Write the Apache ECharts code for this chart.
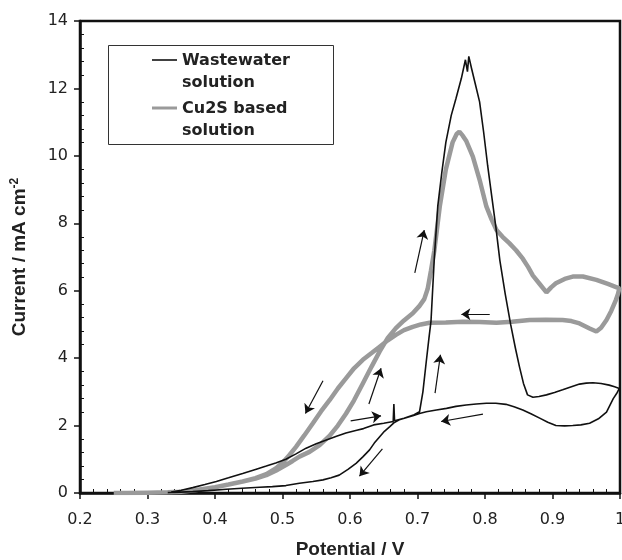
<!DOCTYPE html>
<html>
<head>
<meta charset="utf-8">
<script src="https://cdn.jsdelivr.net/npm/echarts@6/dist/echarts.min.js"></script>
<style>
  html, body { margin: 0; padding: 0; background: #fff; }
  #chart { width: 622px; height: 560px; }
</style>
</head>
<body>
<div id="chart"></div>
<script>
// Cyclic voltammograms: wastewater vs Cu2S based solution

const xTicks = [0.2, 0.3, 0.4, 0.5, 0.6, 0.7, 0.8, 0.9, 1];
const yTicks = [0, 2, 4, 6, 8, 10, 12, 14];

const seriesNames = ['Wastewater\nsolution', 'Cu2S based\nsolution'];

// black curve, read point by point (potential V, current mA cm-2)
const wastewater = [
  [0.335, 0.03], [0.35, 0.08], [0.367, 0.16], [0.385, 0.25], [0.402, 0.34],
  [0.42, 0.45], [0.441, 0.58], [0.46, 0.70], [0.476, 0.80], [0.49, 0.89],
  [0.505, 1.0], [0.52, 1.16], [0.535, 1.33], [0.55, 1.46], [0.565, 1.57],
  [0.58, 1.68], [0.594, 1.78], [0.61, 1.86], [0.62, 1.91], [0.635, 2.02],
  [0.65, 2.07], [0.664, 2.12], [0.665, 2.64], [0.666, 2.14], [0.68, 2.22],
  [0.695, 2.32], [0.703, 2.41],
  [0.708, 3.0], [0.713, 3.9], [0.717, 4.6], [0.72, 5.1], [0.725, 7.0],
  [0.73, 8.5], [0.736, 9.5], [0.742, 10.4], [0.75, 11.2], [0.757, 11.7],
  [0.765, 12.3], [0.771, 12.85], [0.774, 12.5], [0.776, 12.95], [0.78, 12.6],
  [0.786, 12.1], [0.792, 11.6], [0.798, 10.7], [0.804, 9.7], [0.81, 8.8],
  [0.816, 7.9], [0.822, 6.9], [0.83, 5.9], [0.838, 5.0], [0.845, 4.3],
  [0.851, 3.75], [0.857, 3.25], [0.863, 2.91], [0.871, 2.84], [0.88, 2.86],
  [0.891, 2.91], [0.903, 2.98], [0.915, 3.06], [0.928, 3.15], [0.94, 3.23],
  [0.95, 3.26], [0.96, 3.27], [0.972, 3.25], [0.984, 3.2], [0.992, 3.15],
  [0.999, 3.1],
  [0.995, 2.95], [0.99, 2.8], [0.98, 2.4], [0.968, 2.2], [0.955, 2.07],
  [0.942, 2.02], [0.93, 2.0], [0.918, 1.99], [0.905, 2.0], [0.893, 2.1],
  [0.881, 2.22], [0.868, 2.35], [0.856, 2.46], [0.843, 2.56], [0.831, 2.63],
  [0.816, 2.66], [0.802, 2.66], [0.787, 2.64], [0.772, 2.61], [0.757, 2.57],
  [0.743, 2.51], [0.728, 2.46], [0.713, 2.41], [0.703, 2.36], [0.693, 2.29],
  [0.683, 2.23], [0.673, 2.17], [0.665, 2.08], [0.659, 1.97], [0.651, 1.83],
  [0.644, 1.67], [0.636, 1.48], [0.629, 1.28], [0.619, 1.07], [0.609, 0.88],
  [0.597, 0.70], [0.584, 0.53], [0.572, 0.45], [0.56, 0.39], [0.545, 0.34],
  [0.525, 0.29], [0.505, 0.22], [0.485, 0.19], [0.466, 0.17], [0.44, 0.14],
  [0.417, 0.11], [0.39, 0.07], [0.367, 0.04], [0.34, 0.02], [0.33, 0.01]
];

// grey curve
const cu2s = [
  [0.25, 0], [0.27, 0], [0.3, 0.01], [0.33, 0.02], [0.35, 0.04], [0.37, 0.08],
  [0.4, 0.17], [0.42, 0.25], [0.441, 0.34], [0.46, 0.43], [0.476, 0.53],
  [0.49, 0.66], [0.505, 0.83], [0.515, 0.95], [0.525, 1.08], [0.54, 1.22],
  [0.555, 1.42], [0.57, 1.7], [0.582, 2.0], [0.594, 2.35], [0.606, 2.75],
  [0.619, 3.25], [0.632, 3.75], [0.644, 4.2], [0.656, 4.6], [0.668, 4.89],
  [0.68, 5.12], [0.693, 5.33], [0.703, 5.55], [0.71, 5.75], [0.715, 6.05],
  [0.72, 6.6], [0.725, 7.2], [0.733, 8.5], [0.742, 9.6], [0.752, 10.4],
  [0.758, 10.65], [0.762, 10.72], [0.767, 10.6], [0.772, 10.45], [0.782, 9.98],
  [0.792, 9.29], [0.802, 8.5], [0.81, 8.1], [0.817, 7.8], [0.826, 7.6],
  [0.836, 7.41], [0.846, 7.2], [0.856, 6.95], [0.864, 6.7], [0.871, 6.45],
  [0.881, 6.2], [0.891, 5.95], [0.898, 6.1], [0.905, 6.22], [0.918, 6.35],
  [0.93, 6.42], [0.945, 6.42], [0.965, 6.32], [0.982, 6.2], [0.999, 6.07],
  [0.997, 5.9], [0.994, 5.73], [0.987, 5.4], [0.98, 5.13], [0.972, 4.9],
  [0.965, 4.79], [0.955, 4.88], [0.94, 5.03], [0.928, 5.1], [0.915, 5.13],
  [0.89, 5.14], [0.866, 5.13], [0.84, 5.08], [0.817, 5.05], [0.792, 5.07],
  [0.767, 5.08], [0.742, 5.06], [0.718, 5.05], [0.705, 5.0], [0.693, 4.93],
  [0.68, 4.83], [0.668, 4.69], [0.656, 4.53], [0.644, 4.34], [0.632, 4.15],
  [0.619, 3.95], [0.606, 3.7], [0.594, 3.4], [0.582, 3.1], [0.57, 2.76],
  [0.557, 2.42], [0.545, 2.07], [0.532, 1.7], [0.52, 1.37], [0.51, 1.12],
  [0.5, 0.9], [0.49, 0.73], [0.476, 0.56], [0.46, 0.44], [0.441, 0.34],
  [0.42, 0.25], [0.4, 0.17], [0.37, 0.08], [0.35, 0.04]
];

// scan direction arrows: [fromX, fromY, toX, toY]
const arrows = [
  [0.696, 6.53, 0.710, 7.80],
  [0.807, 5.30, 0.765, 5.30],
  [0.726, 2.96, 0.734, 4.10],
  [0.628, 2.64, 0.646, 3.70],
  [0.560, 3.33, 0.534, 2.36],
  [0.601, 2.14, 0.646, 2.29],
  [0.797, 2.34, 0.735, 2.12],
  [0.648, 1.31, 0.614, 0.50]
];

const BLACK = '#111';
const GREY = '#9a9a9a';

const chart = echarts.init(document.getElementById('chart'));

const fmtX = v => String(Number(v.toFixed(2)));

// major ticks point outwards, minor ticks (negative length) point into the plot
const majorTick = { show: true, inside: false, length: 6, lineStyle: { color: BLACK, width: 1.5 } };
const minorTick = { show: true, splitNumber: 5, length: -4, lineStyle: { color: BLACK, width: 1 } };

chart.setOption({
  animation: false,
  grid: {
    left: 80, right: 2, top: 21, bottom: 67,
    outerBoundsMode: 'none', containLabel: false,
    show: true, borderColor: BLACK, borderWidth: 2.5
  },
  xAxis: {
    type: 'value', min: xTicks[0], max: xTicks[xTicks.length - 1], interval: 0.1,
    name: 'Potential / V', nameLocation: 'middle', nameGap: 47,
    nameTextStyle: { fontFamily: 'Liberation Sans', fontWeight: 'bold', fontSize: 19, color: '#222' },
    axisLine: { onZero: false, lineStyle: { color: BLACK, width: 2.5 } },
    axisTick: majorTick,
    minorTick: minorTick,
    axisLabel: { formatter: fmtX, margin: 19, fontFamily: 'DejaVu Sans', fontSize: 16, color: '#222' },
    splitLine: { show: false }
  },
  yAxis: {
    type: 'value', min: yTicks[0], max: yTicks[yTicks.length - 1], interval: 2,
    name: 'Current / mA cm{sup|-2}', nameLocation: 'middle', nameGap: 50,
    nameTextStyle: {
      fontFamily: 'Liberation Sans', fontWeight: 'bold', fontSize: 19, color: '#222',
      rich: { sup: { fontFamily: 'Liberation Sans', fontWeight: 'bold', fontSize: 12, color: '#222', verticalAlign: 'bottom', padding: [0, 0, 9, 0] } }
    },
    axisLine: { onZero: false, lineStyle: { color: BLACK, width: 2.5 } },
    axisTick: majorTick,
    minorTick: minorTick,
    axisLabel: { margin: 12, fontFamily: 'DejaVu Sans', fontSize: 16, color: '#222' },
    splitLine: { show: false }
  },
  series: [{
    name: seriesNames[1], type: 'line', data: cu2s, showSymbol: false,
    lineStyle: { color: GREY, width: 4.5 }, z: 2
  }, {
    name: seriesNames[0], type: 'line', data: wastewater, showSymbol: false,
    lineStyle: { color: BLACK, width: 1.6 }, z: 3
  }, {
    type: 'lines', coordinateSystem: 'cartesian2d', z: 4,
    symbol: ['none', 'arrow'], symbolSize: 9,
    lineStyle: { color: BLACK, width: 1.2, opacity: 1 },
    data: arrows.map(a => ({ coords: [[a[0], a[1]], [a[2], a[3]]] }))
  }],
  graphic: [
    { type: 'rect', shape: { x: 108.5, y: 45.5, width: 225, height: 99 },
      style: { fill: '#fff', stroke: '#333', lineWidth: 1 }, z: 10 },
    { type: 'line', shape: { x1: 152, y1: 60, x2: 177, y2: 60 },
      style: { stroke: BLACK, lineWidth: 1.6 }, z: 11 },
    { type: 'line', shape: { x1: 152, y1: 108, x2: 177, y2: 108 },
      style: { stroke: GREY, lineWidth: 3 }, z: 11 },
    { type: 'text', left: 182, top: 50, z: 11,
      style: { text: seriesNames[0], fontFamily: 'DejaVu Sans', fontWeight: 'bold', fontSize: 16, lineHeight: 22, fill: '#222' } },
    { type: 'text', left: 182, top: 98, z: 11,
      style: { text: seriesNames[1], fontFamily: 'DejaVu Sans', fontWeight: 'bold', fontSize: 16, lineHeight: 22, fill: '#222' } }
  ]
});
</script>
</body>
</html>
